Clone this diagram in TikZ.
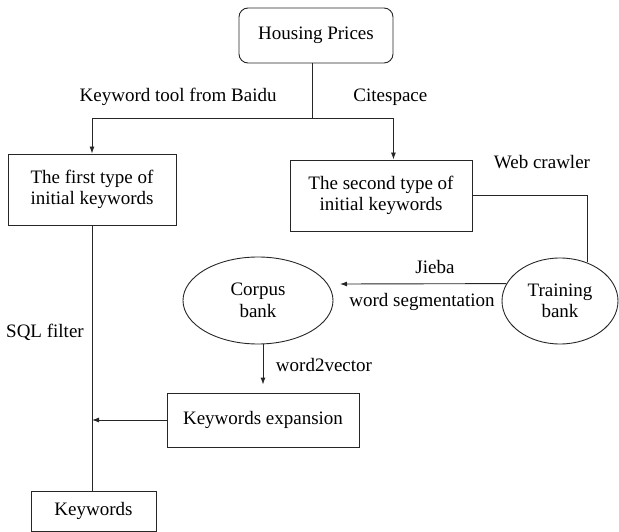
\documentclass[tikz,border=0pt]{standalone}
\usepackage{fontspec}
\setmainfont{Liberation Serif}
\usepackage{tikz}
\usetikzlibrary{shapes.geometric, arrows.meta, positioning, calc}

\begin{document}
\begin{tikzpicture}[
    x=1pt, y=-1pt,
    every node/.style={font=\fontsize{19}{21.5}\selectfont},
    box/.style={draw, inner sep=0pt, align=center},
    roundbox/.style={box, rounded corners=9pt},
    bank/.style={draw, ellipse, inner sep=0pt, align=center},
    lbl/.style={inner sep=0pt},
    arr/.style={-{Latex[length=7pt, width=5pt]}},
    line width=0.9pt, draw=black!85
]
\useasboundingbox (0,0) rectangle (619,532);

% Top
\node[roundbox, minimum width=154pt, minimum height=55pt] (hp) at (316,35.5) {Housing Prices};
\coordinate (split) at (312,118);

% Keyword boxes
\node[box, minimum width=168pt, minimum height=71pt] (first) at (92,189.5) {The first type of\\initial keywords};
\node[box, minimum width=182pt, minimum height=71pt] (second) at (381,195.5) {The second type of\\initial keywords};

% Banks
\node[bank, minimum width=116pt, minimum height=86pt] (train) at (560,301) {Training\\bank};
\node[bank, minimum width=150pt, minimum height=87pt] (corpus) at (258,300.5) {Corpus\\bank};
\coordinate (jiebatip) at (340,284);

% Expansion and result
\node[box, minimum width=192pt, minimum height=54pt] (expand) at (263,420) {Keywords expansion};
\node[box, minimum width=125pt, minimum height=40pt] (kw) at (93.5,511) {Keywords};

% Labels
\node[lbl, anchor=east] (ktool) at (277,97) {Keyword tool from Baidu};
\node[lbl, anchor=west] (cite) at (353,97) {Citespace};
\node[lbl] (crawl) at (542,162) {Web crawler};
\node[lbl] (jieba) at (435,267) {Jieba};
\node[lbl] (seg) at (422,302) {word segmentation};
\node[lbl] (w2v) at (324,365) {word2vector};
\node[lbl] (sql) at (45,332) {SQL filter};

% Arrows
\draw (hp.south -| split) -- (split);
\draw[arr] (split) -| (first.north);
\draw[arr] (split) -| (hp.east |- second.north);
\draw (second.east) -| (train.55);
\draw[arr] (train.162) -- (jiebatip);
\draw[arr, shorten >=8pt] (corpus.south -| expand) -- (expand.north);
\draw[arr] (expand.west) -- (expand.west -| first.south);
\draw (first.south) -- (first.south |- kw.north);

\end{tikzpicture}
\end{document}
